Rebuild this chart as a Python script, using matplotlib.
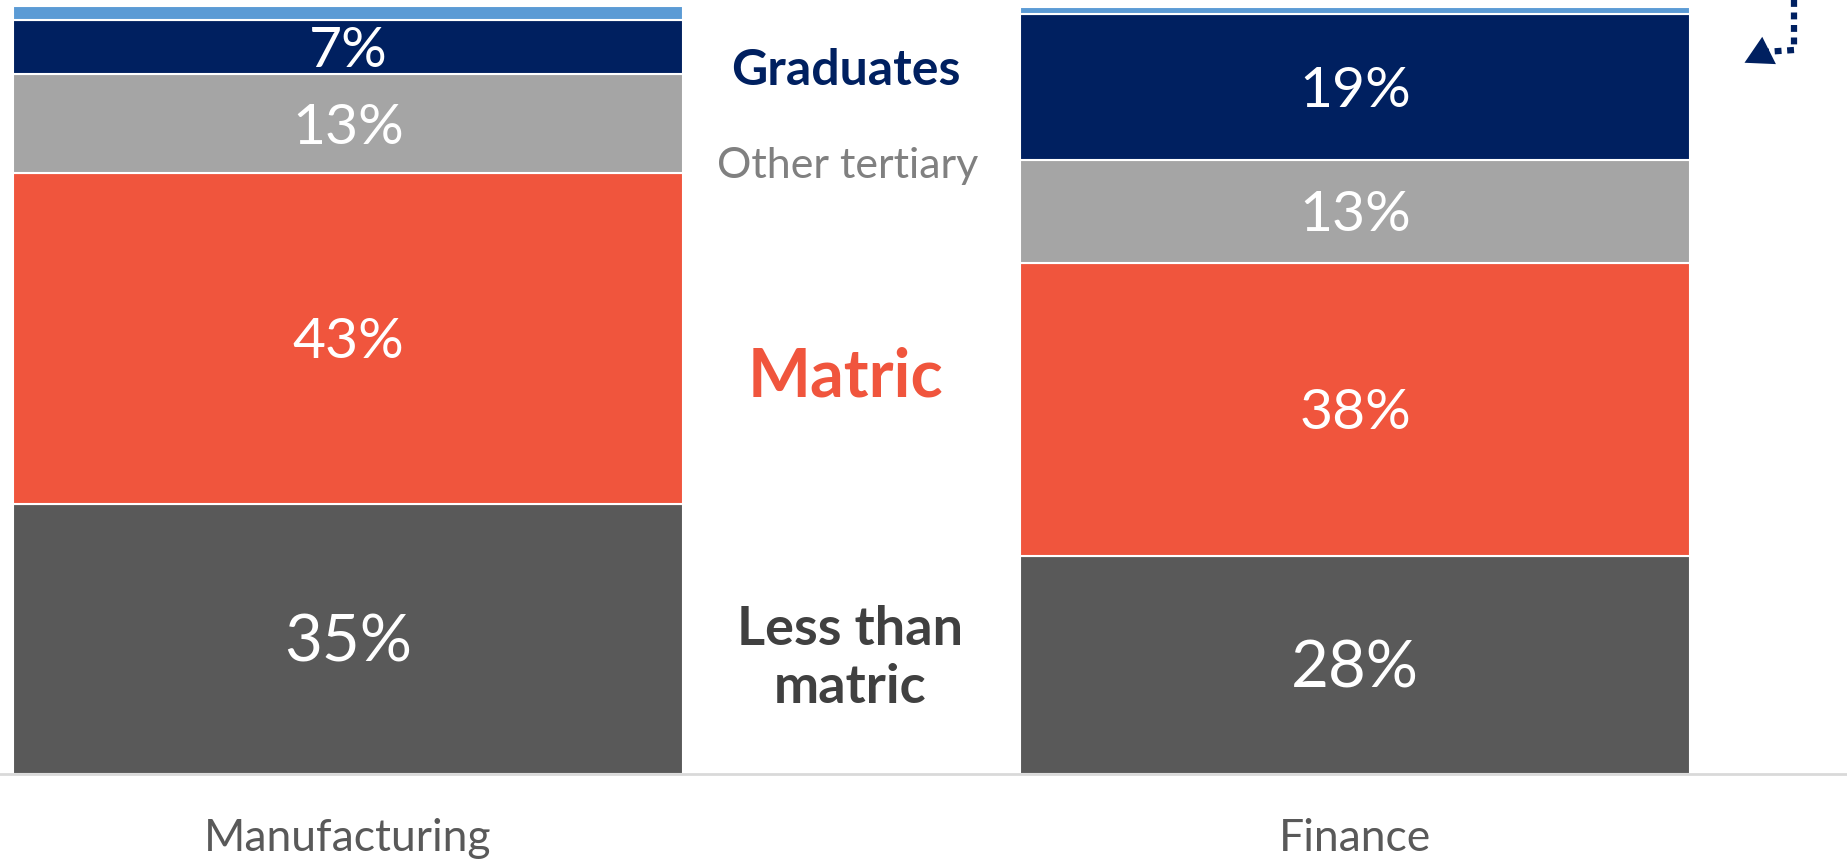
import matplotlib.pyplot as plt
import numpy as np

plt.rcParams['font.family'] = ['Lato', 'DejaVu Sans']

# data (% of employed, by highest education level)
sectors = ['Manufacturing', 'Finance']
levels = ['Less than matric', 'Matric', 'Other tertiary', 'Graduates', 'Other']
shares = {
    'Less than matric': [35.2, 28.4],
    'Matric': [43.0, 38.2],
    'Other tertiary': [12.9, 13.3],
    'Graduates': [7.1, 19.1],
    'Other': [1.8, 0.9],
}
colors = ['#595959', '#F0553D', '#A5A5A5', '#002060', '#5B9BD5']
label_sizes = [47, 41, 41, 41, None]

fig = plt.figure(figsize=(18.47, 8.59), dpi=100)
ax = fig.add_axes([0, 0.099, 1, 0.894])

x = np.arange(len(sectors))
bottom = np.zeros(len(sectors))
for lev, col, fs in zip(levels, colors, label_sizes):
    vals = np.array(shares[lev])
    ax.bar(x, vals, width=0.665, bottom=bottom, color=col,
           edgecolor='white', linewidth=1.5)
    if fs:
        for xi, b, v in zip(x, bottom, vals):
            ax.annotate(f'{round(v):.0f}%', (xi, b + v / 2),
                        xytext=(0, -3), textcoords='offset points',
                        ha='center', va='center', color='white', fontsize=fs)
    bottom += vals

ax.set_xlim(-0.3456, 1.4886)
ax.set_ylim(0, 100)
ax.set_xticks(x)
ax.set_xticklabels(sectors, fontsize=32, color='#595959')
ax.tick_params(axis='x', length=0, pad=32)
ax.set_yticks([])
for s in ['top', 'right', 'left']:
    ax.spines[s].set_visible(False)
ax.spines['bottom'].set_color('#D9D9D9')
ax.spines['bottom'].set_linewidth(2)

# labels between the bars
mid = 0.494
ax.text(mid, 91.6, 'Graduates', ha='center', va='center', color='#002060',
        fontsize=36, fontweight='bold')
ax.text(mid + 0.002, 79.2, 'Other tertiary', ha='center', va='center',
        color='#808080', fontsize=31)
ax.text(mid, 51.6, 'Matric', ha='center', va='center', color='#F0553D',
        fontsize=48, fontweight='bold')
ax.text(mid + 0.005, 15.0, 'Less than\nmatric', ha='center', va='center',
        color='#404040', fontsize=39, fontweight='bold', linespacing=1.22)

# dotted arrow in the top right corner
fig.add_artist(plt.Line2D([1794 / 1847, 1794 / 1847, 1764 / 1847],
                          [1.0, 1 - 50 / 859, 1 - 52 / 859],
                          transform=fig.transFigure, color='#002060',
                          linewidth=4.5, linestyle=(0, (1.1, 0.9))))
ax.annotate('', xy=(1742 / 1847, 1 - 64 / 859), xycoords='figure fraction',
            xytext=(1766 / 1847, 1 - 52 / 859), textcoords='figure fraction',
            arrowprops=dict(arrowstyle='-|>,head_length=0.9,head_width=0.5',
                            mutation_scale=22, color='#002060', lw=0))

fig.savefig('out.png', dpi=100)
